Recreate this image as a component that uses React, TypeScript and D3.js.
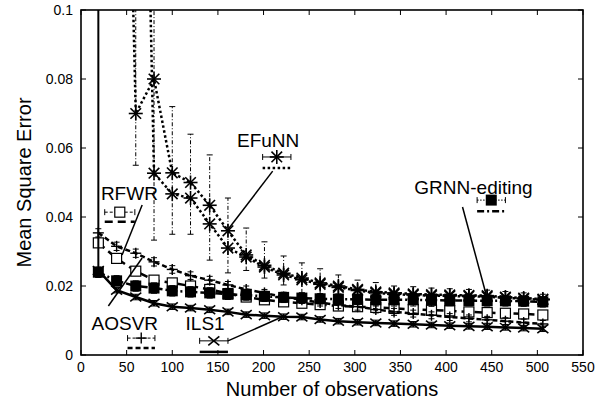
import * as d3 from "d3";
import React from "react";

// observation counts of the samples
const OBS = [19, 39, 60, 80, 100, 120, 141, 161, 181, 201, 222, 242, 262, 282, 303, 323, 343, 364, 384, 404, 425, 445, 465, 485, 506];

const ILS1 = [0.0245, 0.0188, 0.0168, 0.015, 0.014, 0.0136, 0.0131, 0.0125, 0.0117, 0.0114, 0.0111, 0.011, 0.0103, 0.0098, 0.0095, 0.0093, 0.0091, 0.0089, 0.0087, 0.0085, 0.0083, 0.0082, 0.008, 0.0078, 0.0076];
const ILS1_UP = [0.2, 0.0008, 0.0008, 0.0008, 0.0008, 0.0008, 0.0008, 0.0008, 0.0008, 0.0008, 0.0008, 0.0008, 0.0008, 0.0008, 0.0008, 0.0008, 0.0008, 0.0008, 0.0008, 0.0008, 0.0008, 0.0008, 0.0008, 0.0008, 0.0008];
const ILS1_DOWN = [0.002, 0.0008, 0.0008, 0.0008, 0.0008, 0.0008, 0.0008, 0.0008, 0.0008, 0.0008, 0.0008, 0.0008, 0.0008, 0.0008, 0.0008, 0.0008, 0.0008, 0.0008, 0.0008, 0.0008, 0.0008, 0.0008, 0.0008, 0.0008, 0.0008];

const AOSVR = [0.0354, 0.0315, 0.0295, 0.027, 0.0248, 0.023, 0.0217, 0.0203, 0.019, 0.018, 0.0168, 0.016, 0.0152, 0.0145, 0.014, 0.0132, 0.0125, 0.012, 0.0115, 0.011, 0.0106, 0.0102, 0.0098, 0.0094, 0.009];
const AOSVR_ERR = [0.0012, 0.0012, 0.0012, 0.0012, 0.0011, 0.0011, 0.0011, 0.001, 0.001, 0.001, 0.001, 0.001, 0.001, 0.001, 0.001, 0.001, 0.001, 0.001, 0.001, 0.001, 0.001, 0.001, 0.001, 0.001, 0.001];

const RFWR = [0.0325, 0.028, 0.0243, 0.0217, 0.0209, 0.02, 0.019, 0.0178, 0.0168, 0.016, 0.0154, 0.015, 0.0146, 0.0142, 0.014, 0.0138, 0.0135, 0.0132, 0.013, 0.0128, 0.0125, 0.0123, 0.0121, 0.0119, 0.0116];
const RFWR_ERR = [0.001, 0.001, 0.001, 0.001, 0.001, 0.001, 0.001, 0.001, 0.001, 0.001, 0.001, 0.001, 0.001, 0.001, 0.001, 0.001, 0.001, 0.001, 0.001, 0.001, 0.001, 0.001, 0.001, 0.001, 0.001];

const GRNN = [0.024, 0.0215, 0.02, 0.0194, 0.0186, 0.0183, 0.018, 0.0176, 0.0174, 0.017, 0.0167, 0.0165, 0.0163, 0.0162, 0.0161, 0.016, 0.016, 0.016, 0.0159, 0.0158, 0.0158, 0.0157, 0.0157, 0.0156, 0.0154];
const GRNN_ERR = [0.0015, 0.0015, 0.0015, 0.0015, 0.0015, 0.0015, 0.0015, 0.0015, 0.0015, 0.0015, 0.0015, 0.0015, 0.0015, 0.0015, 0.0015, 0.0015, 0.0018, 0.0018, 0.0018, 0.0015, 0.0015, 0.0015, 0.0015, 0.0015, 0.0015];

const EFUNN = [null, 0.3, 0.07, 0.08, 0.0528, 0.05, 0.0434, 0.036, 0.029, 0.026, 0.0237, 0.0223, 0.0209, 0.02, 0.019, 0.0183, 0.018, 0.0177, 0.0175, 0.0174, 0.0173, 0.0172, 0.0168, 0.0165, 0.0162];
const EFUNN_LO = [null, null, 0.055, 0.0333, 0.035, 0.035, 0.0275, 0.0238, 0.0245, 0.0223, 0.0203, 0.018, 0.0175, 0.017, 0.0165, 0.016, 0.016, 0.0158, 0.0157, 0.0157, 0.0156, 0.0155, 0.0153, 0.0151, 0.015];
const EFUNN_HI = [null, null, 0.2, 0.2, 0.072, 0.064, 0.058, 0.0455, 0.0368, 0.0328, 0.0287, 0.0267, 0.025, 0.0232, 0.0217, 0.021, 0.02, 0.0198, 0.0194, 0.0192, 0.019, 0.0188, 0.0184, 0.018, 0.0176];
const EFUNN2 = [null, null, 0.3, 0.0527, 0.0467, 0.0455, 0.038, 0.031, 0.0284, 0.0255, 0.0232, 0.0218, 0.0205, 0.0196, 0.0187, 0.018, 0.0176, 0.0174, 0.0172, 0.0171, 0.017, 0.0169, 0.0166, 0.0163, 0.016];

const X_TICKS = [0, 50, 100, 150, 200, 250, 300, 350, 400, 450, 500, 550];
const Y_TICKS = [0, 0.02, 0.04, 0.06, 0.08, 0.1];
const Y_LABELS = ["0", "0.02", "0.04", "0.06", "0.08", "0.1"];

const FONT = "'Liberation Sans', Arial, Helvetica, sans-serif";

const x = d3.scaleLinear().domain([0, 550]).range([81, 583]);
const y = d3.scaleLinear().domain([0, 0.1]).range([355, 10]);

const line = d3
  .line<[number, number | null]>()
  .defined((d) => d[1] != null)
  .x((d) => x(d[0]))
  .y((d) => y(d[1] as number));

function Marker({ kind, cx, cy }: { kind: string; cx: number; cy: number }) {
  const r = 5.5;
  if (kind === "star") {
    const a = 5.3;
    return (
      <g stroke="#000" strokeWidth={1.6}>
        <line x1={cx - 7} y1={cy} x2={cx + 7} y2={cy} />
        <line x1={cx} y1={cy - 7} x2={cx} y2={cy + 7} />
        <line x1={cx - a} y1={cy - a} x2={cx + a} y2={cy + a} />
        <line x1={cx - a} y1={cy + a} x2={cx + a} y2={cy - a} />
      </g>
    );
  }
  if (kind === "plus") {
    return (
      <g stroke="#000" strokeWidth={1.4}>
        <line x1={cx - r} y1={cy} x2={cx + r} y2={cy} />
        <line x1={cx} y1={cy - r} x2={cx} y2={cy + r} />
      </g>
    );
  }
  if (kind === "cross") {
    return (
      <g stroke="#000" strokeWidth={1.6}>
        <line x1={cx - r} y1={cy - r * 0.8} x2={cx + r} y2={cy + r * 0.8} />
        <line x1={cx - r} y1={cy + r * 0.8} x2={cx + r} y2={cy - r * 0.8} />
      </g>
    );
  }
  if (kind === "fsquare") {
    return <rect x={cx - 5.5} y={cy - 5.5} width={11} height={11} fill="#000" />;
  }
  return <rect x={cx - 5} y={cy - 5} width={10} height={10} fill="#fff" stroke="#000" strokeWidth={1.2} />;
}

type Series = {
  values: (number | null)[];
  lo: (number | null)[];
  hi: (number | null)[];
  marker: string;
  dash: string;
  errDash: string;
  errWidth: number;
};

const SERIES: Series[] = [
  { values: RFWR, lo: RFWR.map((v, i) => v - RFWR_ERR[i]), hi: RFWR.map((v, i) => v + RFWR_ERR[i]), marker: "osquare", dash: "8 5", errDash: "3 2", errWidth: 1 },
  { values: AOSVR, lo: AOSVR.map((v, i) => v - AOSVR_ERR[i]), hi: AOSVR.map((v, i) => v + AOSVR_ERR[i]), marker: "plus", dash: "5 3", errDash: "3 2", errWidth: 1 },
  { values: ILS1, lo: ILS1.map((v, i) => v - ILS1_DOWN[i]), hi: ILS1.map((v, i) => v + ILS1_UP[i]), marker: "cross", dash: "", errDash: "", errWidth: 2 },
  { values: EFUNN2, lo: EFUNN2.map(() => null), hi: EFUNN2.map(() => null), marker: "star", dash: "2.5 2.5", errDash: "4 2 1 2", errWidth: 1 },
  { values: EFUNN, lo: EFUNN_LO, hi: EFUNN_HI, marker: "star", dash: "2.5 2.5", errDash: "4 2 1 2", errWidth: 1 },
  { values: GRNN, lo: GRNN.map((v, i) => v - GRNN_ERR[i]), hi: GRNN.map((v, i) => v + GRNN_ERR[i]), marker: "fsquare", dash: "7 3 2 3", errDash: "1.5 1.5", errWidth: 1 },
];

// legend entries, positions in data units
const LEGEND = [
  { label: "RFWR", tx: 53, ty: 0.0449, ex0: 26, ex1: 59, ey: 0.0414, ly: 0.0386, marker: "osquare", dash: "8 5", errDash: "3 2", a: [67, 0.0435, 45, 0.029] },
  { label: "AOSVR", tx: 48, ty: 0.0072, ex0: 51, ex1: 81, ey: 0.0049, ly: 0.002, marker: "plus", dash: "5 3", errDash: "3 2", a: [30, 0.0142, 67, 0.0281] },
  { label: "ILS1", tx: 136, ty: 0.0072, ex0: 130, ex1: 161, ey: 0.0041, ly: 0.0009, marker: "cross", dash: "", errDash: "", a: [161, 0.0041, 220, 0.011] },
  { label: "EFuNN", tx: 205, ty: 0.0603, ex0: 199, ex1: 230, ey: 0.0574, ly: 0.0542, marker: "star", dash: "2.5 2.5", errDash: "", a: [210, 0.0533, 160, 0.036] },
  { label: "GRNN-editing", tx: 430, ty: 0.0467, ex0: 434, ex1: 465, ey: 0.0449, ly: 0.0417, marker: "fsquare", dash: "7 3 2 3", errDash: "1.5 1.5", a: [418, 0.0429, 444, 0.0174] },
];

export default function App() {
  const [x0, x1] = x.range();
  const [yb, yt] = y.range();
  return (
    <svg width={608} height={410} style={{ position: "absolute", left: 0, top: 0, background: "#fff" }} fontFamily={FONT}>
      <defs>
        <clipPath id="plot">
          <rect x={x0} y={yt} width={x1 - x0} height={yb - yt} />
        </clipPath>
      </defs>
      <rect width={608} height={410} fill="#fff" />

      <g clipPath="url(#plot)">
        {SERIES.map((s, si) => {
          const pts = OBS.map((o, i) => [o, s.values[i]] as [number, number | null]);
          return (
            <g key={si}>
              <path d={line(pts) || ""} fill="none" stroke="#000" strokeWidth={2.5} strokeDasharray={s.dash || undefined} />
              {OBS.map((o, i) =>
                s.lo[i] == null || s.hi[i] == null ? null : (
                  <g key={i} stroke="#000" strokeWidth={1}>
                    <line x1={x(o)} x2={x(o)} y1={y(s.lo[i] as number)} y2={y(s.hi[i] as number)} strokeDasharray={s.errDash || undefined} strokeWidth={s.errWidth} />
                    <line x1={x(o) - 3} x2={x(o) + 3} y1={y(s.lo[i] as number)} y2={y(s.lo[i] as number)} />
                    <line x1={x(o) - 3} x2={x(o) + 3} y1={y(s.hi[i] as number)} y2={y(s.hi[i] as number)} />
                  </g>
                )
              )}
              {OBS.map((o, i) =>
                s.values[i] == null || (s.values[i] as number) > 0.1 ? null : (
                  <Marker key={"m" + i} kind={s.marker} cx={x(o)} cy={y(s.values[i] as number)} />
                )
              )}
            </g>
          );
        })}
      </g>

      {LEGEND.map((l) => {
        const cx = x((l.ex0 + l.ex1) / 2);
        const ey = y(l.ey);
        return (
          <g key={l.label}>
            <text x={x(l.tx)} y={y(l.ty)} textAnchor="middle" fontSize={19}>
              {l.label}
            </text>
            <g stroke="#000" strokeWidth={1}>
              <line x1={x(l.ex0)} x2={x(l.ex1)} y1={ey} y2={ey} strokeDasharray={l.errDash || undefined} />
              <line x1={x(l.ex0)} x2={x(l.ex0)} y1={ey - 3} y2={ey + 3} />
              <line x1={x(l.ex1)} x2={x(l.ex1)} y1={ey - 3} y2={ey + 3} />
            </g>
            <Marker kind={l.marker} cx={cx} cy={ey} />
            <line x1={x(l.ex0)} x2={x(l.ex1)} y1={y(l.ly)} y2={y(l.ly)} stroke="#000" strokeWidth={2.5} strokeDasharray={l.dash || undefined} />
            <line x1={x(l.a[0])} y1={y(l.a[1])} x2={x(l.a[2])} y2={y(l.a[3])} stroke="#000" strokeWidth={1.5} />
          </g>
        );
      })}

      {/* frame and ticks */}
      <rect x={x0} y={yt} width={x1 - x0} height={yb - yt} fill="none" stroke="#000" strokeWidth={1.6} />
      {X_TICKS.map((t) => (
        <g key={"x" + t}>
          <line x1={x(t)} x2={x(t)} y1={yb} y2={yb - 5} stroke="#000" strokeWidth={1} />
          <line x1={x(t)} x2={x(t)} y1={yt} y2={yt + 5} stroke="#000" strokeWidth={1} />
          <text x={x(t)} y={yb + 17} textAnchor="middle" fontSize={14}>
            {t}
          </text>
        </g>
      ))}
      {Y_TICKS.map((t, i) => (
        <g key={"y" + t}>
          <line x1={x0} x2={x0 + 5} y1={y(t)} y2={y(t)} stroke="#000" strokeWidth={1} />
          <line x1={x1} x2={x1 - 5} y1={y(t)} y2={y(t)} stroke="#000" strokeWidth={1} />
          <text x={x0 - 8} y={y(t) + 5} textAnchor="end" fontSize={14}>
            {Y_LABELS[i]}
          </text>
        </g>
      ))}
      <text x={(x0 + x1) / 2} y={396} textAnchor="middle" fontSize={20}>
        Number of observations
      </text>
      <text transform={`translate(31,${(yb + yt) / 2}) rotate(-90)`} textAnchor="middle" fontSize={20}>
        Mean Square Error
      </text>
    </svg>
  );
}
